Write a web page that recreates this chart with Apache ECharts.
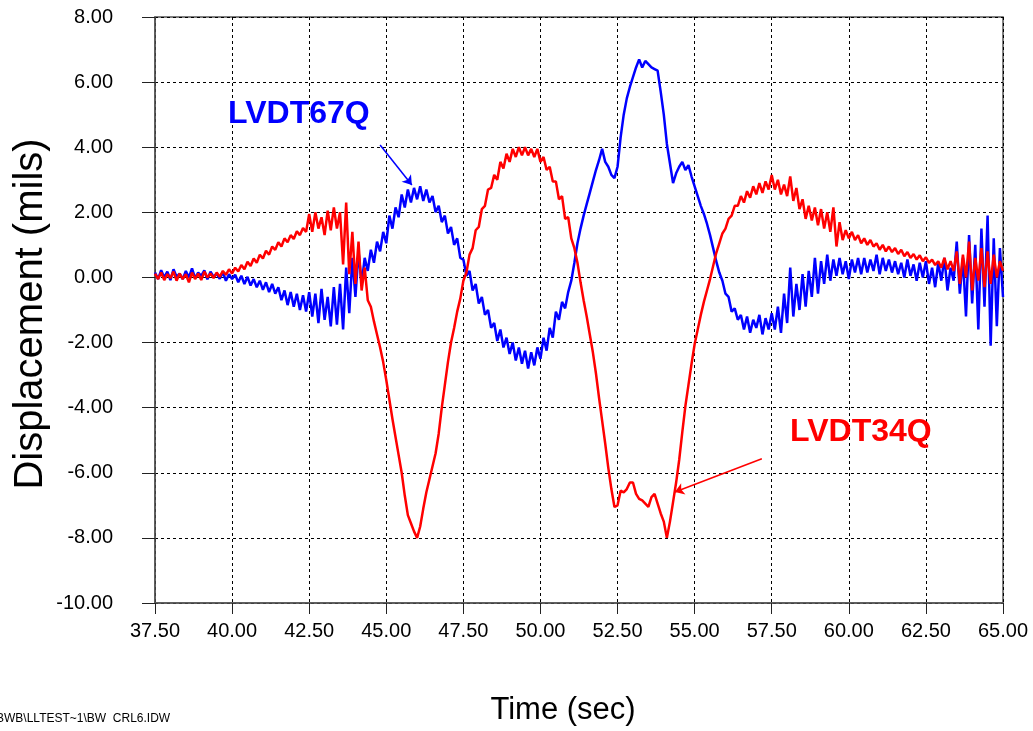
<!DOCTYPE html>
<html>
<head>
<meta charset="utf-8">
<script src="https://cdn.jsdelivr.net/npm/echarts@6/dist/echarts.min.js"></script>
<style>
    html, body {margin:0;padding:0;background:#ffffff;}
    #chart {width:1033px;height:731px;}
</style>
</head>
<body>
<div id="chart"></div>
<script>
    // sample grid: 37.5 s .. 65.0 s, every 0.1 s
    var startTime = 37.5;
    var stepTime = 0.1;

    // LVDT67Q (blue), mils
    var lvdt67q = [
        0.15, -0.05, 0.22, 0.0, 0.18, -0.08, 0.25, 0.02, 0.12, -0.05,
        0.2, 0.0, 0.28, -0.02, 0.15, 0.05, 0.22, -0.06, 0.18, 0.02,
        0.12, -0.04, 0.16, -0.1, 0.1, -0.05, 0.08, -0.15, 0.05, -0.2,
        0.02, -0.25, -0.05, -0.3, -0.1, -0.38, -0.15, -0.45, -0.2, -0.5,
        -0.3, -0.7, -0.4, -0.85, -0.45, -0.9, -0.5, -1.0, -0.55, -1.05,
        -0.45, -1.2, -0.5, -1.4, -0.35, -1.3, -0.6, -1.5, -0.3, -1.45,
        -0.2, -1.6, 0.3, -1.1, 0.6, -0.6, 0.8, -0.2, 0.6, 0.2,
        0.85, 0.45, 1.1, 0.8, 1.4, 1.05, 1.9, 1.5, 2.15, 1.85,
        2.55, 2.15, 2.7, 2.3, 2.75, 2.4, 2.8, 2.35, 2.7, 2.3,
        2.5, 2.0, 2.2, 1.7, 1.9, 1.35, 1.55, 1.0, 1.2, 0.6,
        0.55, 0.05, 0.2, -0.4, -0.2, -0.8, -0.6, -1.15, -1.0, -1.55,
        -1.4, -1.95, -1.6, -2.15, -1.85, -2.35, -2.0, -2.55, -2.15, -2.65,
        -2.25, -2.8, -2.3, -2.7, -2.15, -2.5, -1.85, -2.25, -1.55, -1.85,
        -1.05, -1.3, -0.75, -0.95, -0.45, -0.1, 0.45, 1.05, 1.5, 1.9,
        2.25, 2.6, 2.95, 3.3, 3.6, 3.95, 3.55, 3.4, 3.15, 3.05,
        3.4, 4.3, 5.0, 5.5, 5.85, 6.15, 6.45, 6.7, 6.45, 6.65,
        6.55, 6.45, 6.4, 6.35, 5.7, 5.0, 4.1, 3.5, 2.9, 3.2,
        3.4, 3.55, 3.3, 3.45, 3.1, 2.8, 2.5, 2.2, 1.95, 1.65,
        1.3, 0.9, 0.5, 0.15, -0.1, -0.5, -0.6, -1.05, -0.95, -1.3,
        -1.15, -1.6, -1.2, -1.7, -1.3, -1.55, -1.15, -1.75, -1.25, -1.6,
        -1.1, -1.6, -0.9, -1.7, -0.5, -1.4, 0.3, -1.2, -0.2, -1.0,
        0.1, -0.9, 0.2, -0.6, 0.6, -0.5, 0.5, -0.2, 0.7, -0.1,
        0.55, 0.05, 0.6, 0.1, 0.5, -0.05, 0.55, 0.15, 0.6, 0.1,
        0.6, 0.15, 0.55, 0.2, 0.7, 0.1, 0.6, 0.2, 0.55, 0.15,
        0.5, 0.1, 0.45, 0.0, 0.55, 0.05, 0.4, -0.1, 0.45, 0.0,
        0.5, -0.2, 0.3, -0.3, 0.45, -0.1, 0.6, -0.4, 0.3, -0.1,
        1.1, -0.5, 0.6, -1.2, 1.3, -0.8, 1.0, -1.6, 1.5, -0.9,
        1.9, -2.1, 1.2, -1.5, 0.9, -0.6
    ];

    // LVDT34Q (red), mils
    var lvdt34q = [
        0.12, -0.05, 0.15, -0.08, 0.1, -0.02, 0.18, -0.1, 0.12, -0.05,
        0.1, -0.15, 0.15, -0.05, 0.12, -0.08, 0.18, 0.0, 0.12, -0.02,
        0.15, 0.02, 0.2, 0.08, 0.25, 0.12, 0.3, 0.18, 0.38, 0.25,
        0.48, 0.35, 0.58, 0.45, 0.7, 0.58, 0.82, 0.7, 0.95, 0.85,
        1.08, 0.95, 1.2, 1.08, 1.3, 1.18, 1.42, 1.3, 1.52, 1.4,
        1.95, 1.4, 2.0, 1.5, 1.85, 1.3, 2.05, 1.45, 2.15, 1.5,
        2.0, 0.4, 2.3, 0.1, 1.4, -0.2, 1.1, -0.4, 0.3, -0.7,
        -0.9, -1.35, -1.75, -2.15, -2.6, -3.15, -3.75, -4.35, -4.9, -5.45,
        -6.0, -6.7, -7.3, -7.55, -7.8, -8.0, -7.65, -7.1, -6.6, -6.2,
        -5.8, -5.4, -4.8, -4.0, -3.3, -2.6, -2.0, -1.55, -1.05, -0.65,
        -0.1, 0.15, 0.7, 0.9, 1.45, 1.55, 2.1, 2.2, 2.7, 2.75,
        3.15, 3.0, 3.55, 3.35, 3.8, 3.55, 3.95, 3.7, 4.0, 3.75,
        4.0, 3.75, 3.95, 3.7, 3.95, 3.55, 3.7, 3.3, 3.4, 2.95,
        2.95, 2.4, 2.5, 1.8, 1.85, 1.2, 0.9, 0.45, -0.15, -0.7,
        -1.2, -1.75, -2.3, -2.95, -3.7, -4.4, -5.1, -5.85, -6.5, -7.05,
        -7.0, -6.55, -6.6, -6.5, -6.3, -6.3, -6.65, -6.8, -6.85, -6.95,
        -7.05, -6.75, -6.65, -6.95, -7.25, -7.5, -8.0, -7.5, -6.9, -6.3,
        -5.6, -4.75, -3.95, -3.3, -2.65, -2.05, -1.6, -1.15, -0.75, -0.4,
        -0.05, 0.35, 0.75, 1.05, 1.35, 1.5, 1.8, 1.9, 2.2, 2.2,
        2.5, 2.3, 2.65, 2.45, 2.8, 2.55, 2.9, 2.6, 2.95, 2.7,
        3.15, 2.7, 3.0, 2.55, 2.85, 2.5, 3.1, 2.35, 2.75, 2.1,
        2.4, 1.8, 2.2, 1.75, 2.15, 1.6, 2.1, 1.5, 2.0, 1.4,
        2.15, 0.95, 1.7, 1.15, 1.45, 1.2, 1.4, 1.15, 1.3, 1.05,
        1.2, 1.0, 1.15, 0.95, 1.05, 0.85, 1.0, 0.8, 0.95, 0.78,
        0.9, 0.72, 0.85, 0.65, 0.78, 0.6, 0.72, 0.55, 0.68, 0.5,
        0.62, 0.45, 0.55, 0.38, 0.5, 0.3, 0.6, 0.25, 0.5, 0.2,
        0.8, -0.2, 0.7, 0.0, 1.1, -0.4, 0.6, -0.1, 0.9, -0.3,
        0.8, -0.2, 0.7, 0.0, 0.5, 0.2
    ];

    var xMin = 37.5, xMax = 65, xStep = 2.5;
    var yMin = -10, yMax = 8, yStep = 2;

    function pairs(arr) {
        var out = [];
        for (var i = 0; i < arr.length; i++) {
            out.push([+(startTime + i * stepTime).toFixed(2), arr[i]]);
        }
        return out;
    }

    var myChart = echarts.init(document.getElementById('chart'));
    var font = 'Arial, "Liberation Sans", sans-serif';

    var option = {
        animation: false,
        backgroundColor: '#ffffff',
        grid: {
            left: 155, right: 30, top: 17, bottom: 128,
            show: true, borderColor: '#555555', borderWidth: 1.5
        },
        xAxis: {
            type: 'value', min: xMin, max: xMax, interval: xStep,
            axisLine: {show: true, onZero: false, lineStyle: {color: '#555555', width: 1.5}},
            axisTick: {show: true, length: 11, lineStyle: {color: '#222222'}},
            axisLabel: {
                margin: 18, color: '#000000', fontSize: 20, fontFamily: font,
                formatter: function (v) { return v.toFixed(2); }
            },
            splitLine: {show: true, lineStyle: {color: '#000000', type: [3, 3], width: 1}}
        },
        yAxis: {
            type: 'value', min: yMin, max: yMax, interval: yStep,
            axisLine: {show: true, onZero: false, lineStyle: {color: '#555555', width: 1.5}},
            axisTick: {show: true, length: 13, lineStyle: {color: '#222222'}},
            axisLabel: {
                margin: 42, color: '#000000', fontSize: 20, fontFamily: font,
                formatter: function (v) { return v.toFixed(2); }
            },
            splitLine: {show: true, lineStyle: {color: '#000000', type: [3, 3], width: 1}}
        },
        series: [
            {
                name: 'LVDT67Q', type: 'line', data: pairs(lvdt67q),
                showSymbol: false, symbol: 'none', sampling: 'none',
                lineStyle: {color: '#0000ff', width: 2.5},
                markLine: {
                    silent: true, symbol: ['none', 'arrow'], symbolSize: 9,
                    label: {show: false},
                    lineStyle: {color: '#0000ff', width: 1.5, type: 'solid'},
                    data: [[{coord: [44.8, 4.07]}, {coord: [45.83, 2.84]}]]
                },
                z: 2
            },
            {
                name: 'LVDT34Q', type: 'line', data: pairs(lvdt34q),
                showSymbol: false, symbol: 'none', sampling: 'none',
                lineStyle: {color: '#ff0000', width: 2.5},
                markLine: {
                    silent: true, symbol: ['none', 'arrow'], symbolSize: 9,
                    label: {show: false},
                    lineStyle: {color: '#ff0000', width: 1.5, type: 'solid'},
                    data: [[{coord: [57.18, -5.57]}, {coord: [54.36, -6.59]}]]
                },
                z: 3
            }
        ],
        graphic: [
            {type: 'text', left: 228, top: 98, z: 10,
                style: {text: 'LVDT67Q', fill: '#0000ff', font: 'bold 32px ' + font}},
            {type: 'text', left: 790, top: 416, z: 10,
                style: {text: 'LVDT34Q', fill: '#ff0000', font: 'bold 32px ' + font}},
            {type: 'text', x: 563, y: 710, z: 10,
                style: {text: 'Time (sec)', fill: '#000000', font: '31px ' + font,
                    align: 'center', verticalAlign: 'middle'}},
            {type: 'text', x: 31, y: 314, rotation: Math.PI / 2, z: 10,
                style: {text: 'Displacement (mils)', fill: '#000000', font: '40px ' + font,
                    align: 'center', verticalAlign: 'middle'}},
            {type: 'text', x: -4, y: 713, z: 10,
                style: {text: 'BWB\\LLTEST~1\\BW  CRL6.IDW', fill: '#000000', font: '12px ' + font}}
        ]
    };

    myChart.setOption(option, true);
</script>
</body>
</html>
